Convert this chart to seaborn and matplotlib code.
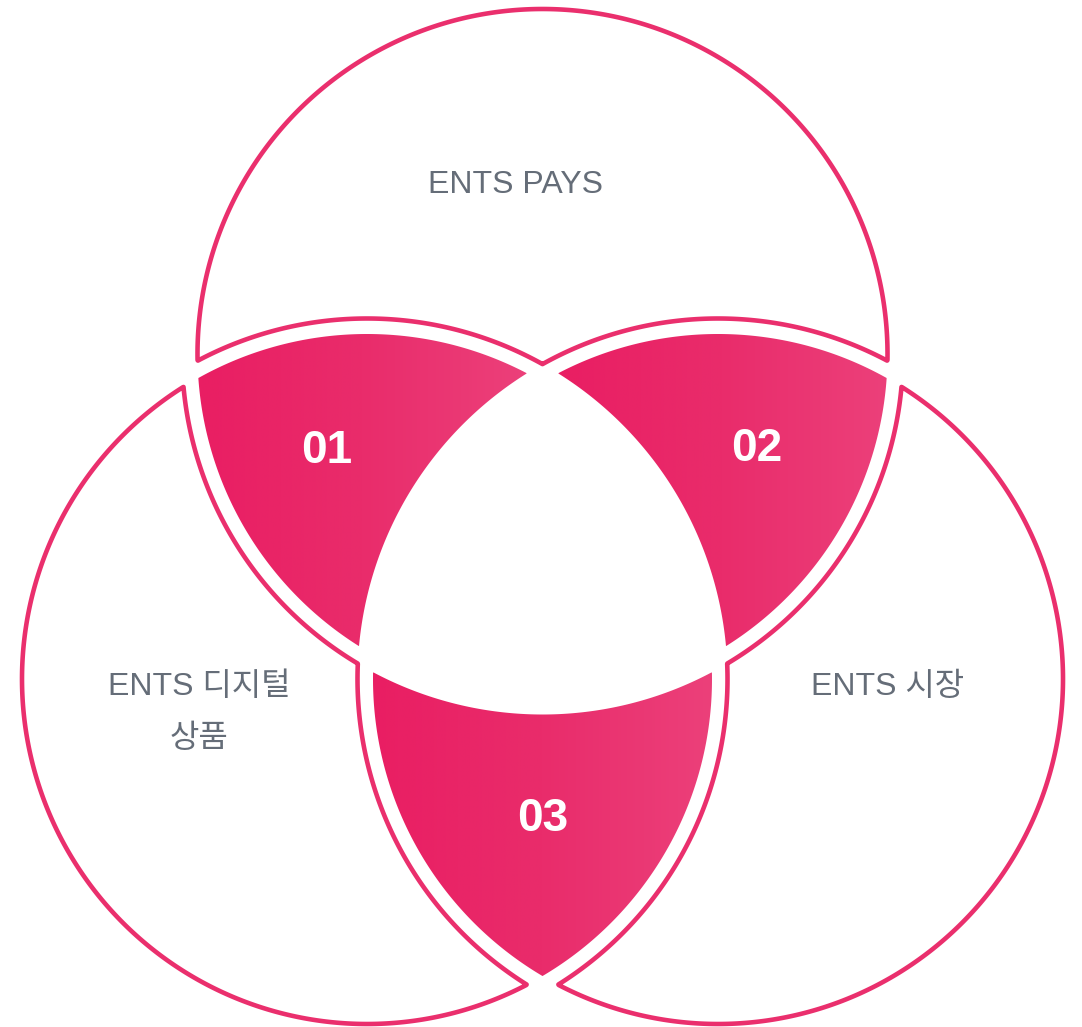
import numpy as np
import matplotlib
matplotlib.use("Agg")
import matplotlib.pyplot as plt
import seaborn as sns

# labels of the three sets and of the pairwise overlaps
set_names = ["ENTS PAYS", "ENTS 디지털\n상품", "ENTS 시장"]
overlap_ids = ["01", "02", "03"]
overlap_pairs = [(0, 1), (0, 2), (1, 2)]

# layout (pixels, y pointing down)
W, H = 1082, 1027
RAD = 345.0
GAP = 15.5
centers = [(542.5, 354.0), (367.0, 679.0), (718.0, 679.0)]
name_pos = [(516, 185), (199, 713), (888, 687)]
id_pos = [(327, 451), (757, 449), (542.5, 819)]

line_col = "#EA2F6D"
text_col = "#656D78"
grad_cmap = sns.blend_palette(["#E91E63", "#E92C6B", "#EC407A"], as_cmap=True)

sns.set_theme(style="white")
plt.rcParams["font.family"] = ["Liberation Sans", "Noto Sans CJK KR"]

fig = plt.figure(figsize=(W / 100, H / 100), dpi=100)
ax = fig.add_axes([0, 0, 1, 1])
ax.set_xlim(0, W)
ax.set_ylim(H, 0)
ax.axis("off")

# distance fields on a fine grid
xs = np.arange(-2, W + 2, 0.5)
ys = np.arange(-2, H + 2, 0.5)
X, Y = np.meshgrid(xs, ys)
dist = [np.hypot(X - cx, Y - cy) for cx, cy in centers]

# outlined parts that belong to one set only
for i in range(3):
    others = [k for k in range(3) if k != i]
    f = np.maximum.reduce([dist[i] - RAD] + [RAD + GAP - dist[k] for k in others])
    ax.contour(X, Y, f, levels=[0], colors=line_col, linewidths=3.3)

# filled overlaps with a left-to-right gradient
grad = np.linspace(0, 1, 256).reshape(1, -1)
for (i, j), lab, (tx, ty) in zip(overlap_pairs, overlap_ids, id_pos):
    k = [m for m in range(3) if m not in (i, j)][0]
    f = np.maximum.reduce([dist[i] - RAD, dist[j] - RAD, RAD + GAP - dist[k]])
    cs = ax.contourf(X, Y, f, levels=[-1e9, 0], colors="none")
    path = cs.get_paths()[0]
    cs.remove()
    v = path.vertices
    im = ax.imshow(grad, cmap=grad_cmap, aspect="auto", interpolation="bilinear",
                   extent=[v[:, 0].min(), v[:, 0].max(), v[:, 1].max(), v[:, 1].min()])
    im.set_clip_path(path, transform=ax.transData)
    ax.text(tx, ty, lab, ha="center", va="center", color="white",
            fontsize=33, fontweight="bold")

ax.set_xlim(0, W)
ax.set_ylim(H, 0)

for name, (tx, ty) in zip(set_names, name_pos):
    ax.text(tx, ty, name, ha="center", va="center", color=text_col,
            fontsize=23, linespacing=1.95)

fig.savefig("out.png", dpi=100)
